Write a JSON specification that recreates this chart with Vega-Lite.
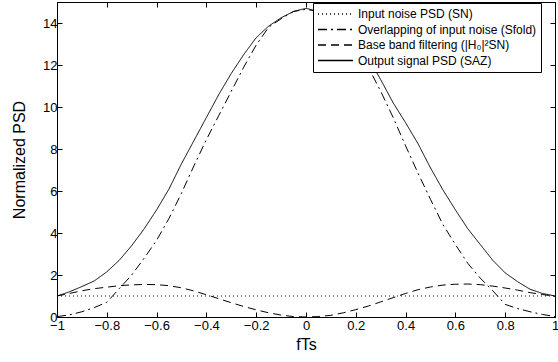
{
  "$schema": "https://vega.github.io/schema/vega-lite/v6.json",
  "width": 498,
  "height": 315,
  "autosize": {"type": "none"},
  "padding": {"left": 57, "top": 2, "right": 3, "bottom": 45},
  "config": {
    "view": {"stroke": "black", "strokeWidth": 1},
    "font": "Liberation Sans",
    "axis": {
      "domainColor": "black", "tickColor": "black", "labelColor": "black", "titleColor": "black",
      "grid": false, "tickSize": -5, "labelFontSize": 13, "titleFontSize": 16, "titleFontWeight": "normal",
      "labelFlush": false, "labelOverlap": false
    }
  },
  "layer": [
    {
      "data": {"values": [
        {"s": "Input noise PSD (SN)", "x": -1, "y": 1},
        {"s": "Input noise PSD (SN)", "x": 1, "y": 1},

        {"s": "Overlapping of input noise (Sfold)", "x": -1, "y": 0.02},
        {"s": "Overlapping of input noise (Sfold)", "x": -0.95, "y": 0.1},
        {"s": "Overlapping of input noise (Sfold)", "x": -0.9, "y": 0.25},
        {"s": "Overlapping of input noise (Sfold)", "x": -0.85, "y": 0.45},
        {"s": "Overlapping of input noise (Sfold)", "x": -0.8, "y": 0.7},
        {"s": "Overlapping of input noise (Sfold)", "x": -0.75, "y": 1.35},
        {"s": "Overlapping of input noise (Sfold)", "x": -0.7, "y": 2.0},
        {"s": "Overlapping of input noise (Sfold)", "x": -0.65, "y": 2.8},
        {"s": "Overlapping of input noise (Sfold)", "x": -0.6, "y": 3.65},
        {"s": "Overlapping of input noise (Sfold)", "x": -0.55, "y": 4.7},
        {"s": "Overlapping of input noise (Sfold)", "x": -0.5, "y": 5.9},
        {"s": "Overlapping of input noise (Sfold)", "x": -0.45, "y": 7.2},
        {"s": "Overlapping of input noise (Sfold)", "x": -0.4, "y": 8.45},
        {"s": "Overlapping of input noise (Sfold)", "x": -0.35, "y": 9.6},
        {"s": "Overlapping of input noise (Sfold)", "x": -0.3, "y": 10.75},
        {"s": "Overlapping of input noise (Sfold)", "x": -0.25, "y": 11.9},
        {"s": "Overlapping of input noise (Sfold)", "x": -0.2, "y": 12.95},
        {"s": "Overlapping of input noise (Sfold)", "x": -0.15, "y": 13.8},
        {"s": "Overlapping of input noise (Sfold)", "x": -0.1, "y": 14.2},
        {"s": "Overlapping of input noise (Sfold)", "x": -0.05, "y": 14.55},
        {"s": "Overlapping of input noise (Sfold)", "x": 0, "y": 14.65},
        {"s": "Overlapping of input noise (Sfold)", "x": 0.05, "y": 14.55},
        {"s": "Overlapping of input noise (Sfold)", "x": 0.1, "y": 14.2},
        {"s": "Overlapping of input noise (Sfold)", "x": 0.15, "y": 13.7},
        {"s": "Overlapping of input noise (Sfold)", "x": 0.2, "y": 12.9},
        {"s": "Overlapping of input noise (Sfold)", "x": 0.25, "y": 11.9},
        {"s": "Overlapping of input noise (Sfold)", "x": 0.3, "y": 10.75},
        {"s": "Overlapping of input noise (Sfold)", "x": 0.35, "y": 9.5},
        {"s": "Overlapping of input noise (Sfold)", "x": 0.4, "y": 8.15},
        {"s": "Overlapping of input noise (Sfold)", "x": 0.45, "y": 6.85},
        {"s": "Overlapping of input noise (Sfold)", "x": 0.5, "y": 5.6},
        {"s": "Overlapping of input noise (Sfold)", "x": 0.55, "y": 4.4},
        {"s": "Overlapping of input noise (Sfold)", "x": 0.6, "y": 3.45},
        {"s": "Overlapping of input noise (Sfold)", "x": 0.65, "y": 2.55},
        {"s": "Overlapping of input noise (Sfold)", "x": 0.7, "y": 1.85},
        {"s": "Overlapping of input noise (Sfold)", "x": 0.75, "y": 1.25},
        {"s": "Overlapping of input noise (Sfold)", "x": 0.8, "y": 0.6},
        {"s": "Overlapping of input noise (Sfold)", "x": 0.85, "y": 0.4},
        {"s": "Overlapping of input noise (Sfold)", "x": 0.9, "y": 0.25},
        {"s": "Overlapping of input noise (Sfold)", "x": 0.95, "y": 0.12},
        {"s": "Overlapping of input noise (Sfold)", "x": 1, "y": 0.02},

        {"s": "Base band filtering (|H₀|²SN)", "x": -1, "y": 1.0},
        {"s": "Base band filtering (|H₀|²SN)", "x": -0.95, "y": 1.12},
        {"s": "Base band filtering (|H₀|²SN)", "x": -0.9, "y": 1.25},
        {"s": "Base band filtering (|H₀|²SN)", "x": -0.85, "y": 1.35},
        {"s": "Base band filtering (|H₀|²SN)", "x": -0.8, "y": 1.42},
        {"s": "Base band filtering (|H₀|²SN)", "x": -0.75, "y": 1.49},
        {"s": "Base band filtering (|H₀|²SN)", "x": -0.7, "y": 1.53},
        {"s": "Base band filtering (|H₀|²SN)", "x": -0.65, "y": 1.55},
        {"s": "Base band filtering (|H₀|²SN)", "x": -0.6, "y": 1.54},
        {"s": "Base band filtering (|H₀|²SN)", "x": -0.55, "y": 1.49},
        {"s": "Base band filtering (|H₀|²SN)", "x": -0.5, "y": 1.39},
        {"s": "Base band filtering (|H₀|²SN)", "x": -0.45, "y": 1.24},
        {"s": "Base band filtering (|H₀|²SN)", "x": -0.4, "y": 1.06},
        {"s": "Base band filtering (|H₀|²SN)", "x": -0.35, "y": 0.87},
        {"s": "Base band filtering (|H₀|²SN)", "x": -0.3, "y": 0.68},
        {"s": "Base band filtering (|H₀|²SN)", "x": -0.25, "y": 0.5},
        {"s": "Base band filtering (|H₀|²SN)", "x": -0.2, "y": 0.34},
        {"s": "Base band filtering (|H₀|²SN)", "x": -0.15, "y": 0.2},
        {"s": "Base band filtering (|H₀|²SN)", "x": -0.1, "y": 0.09},
        {"s": "Base band filtering (|H₀|²SN)", "x": -0.05, "y": 0.02},
        {"s": "Base band filtering (|H₀|²SN)", "x": 0, "y": 0},
        {"s": "Base band filtering (|H₀|²SN)", "x": 0.05, "y": 0.02},
        {"s": "Base band filtering (|H₀|²SN)", "x": 0.1, "y": 0.08},
        {"s": "Base band filtering (|H₀|²SN)", "x": 0.15, "y": 0.2},
        {"s": "Base band filtering (|H₀|²SN)", "x": 0.2, "y": 0.35},
        {"s": "Base band filtering (|H₀|²SN)", "x": 0.25, "y": 0.52},
        {"s": "Base band filtering (|H₀|²SN)", "x": 0.3, "y": 0.72},
        {"s": "Base band filtering (|H₀|²SN)", "x": 0.35, "y": 0.92},
        {"s": "Base band filtering (|H₀|²SN)", "x": 0.4, "y": 1.12},
        {"s": "Base band filtering (|H₀|²SN)", "x": 0.45, "y": 1.3},
        {"s": "Base band filtering (|H₀|²SN)", "x": 0.5, "y": 1.43},
        {"s": "Base band filtering (|H₀|²SN)", "x": 0.55, "y": 1.52},
        {"s": "Base band filtering (|H₀|²SN)", "x": 0.6, "y": 1.56},
        {"s": "Base band filtering (|H₀|²SN)", "x": 0.65, "y": 1.57},
        {"s": "Base band filtering (|H₀|²SN)", "x": 0.7, "y": 1.54},
        {"s": "Base band filtering (|H₀|²SN)", "x": 0.75, "y": 1.47},
        {"s": "Base band filtering (|H₀|²SN)", "x": 0.8, "y": 1.38},
        {"s": "Base band filtering (|H₀|²SN)", "x": 0.85, "y": 1.28},
        {"s": "Base band filtering (|H₀|²SN)", "x": 0.9, "y": 1.16},
        {"s": "Base band filtering (|H₀|²SN)", "x": 0.95, "y": 1.07},
        {"s": "Base band filtering (|H₀|²SN)", "x": 1, "y": 0.98},

        {"s": "Output signal PSD (SAZ)", "x": -1, "y": 1.0},
        {"s": "Output signal PSD (SAZ)", "x": -0.95, "y": 1.2},
        {"s": "Output signal PSD (SAZ)", "x": -0.9, "y": 1.45},
        {"s": "Output signal PSD (SAZ)", "x": -0.85, "y": 1.72},
        {"s": "Output signal PSD (SAZ)", "x": -0.8, "y": 2.15},
        {"s": "Output signal PSD (SAZ)", "x": -0.75, "y": 2.7},
        {"s": "Output signal PSD (SAZ)", "x": -0.7, "y": 3.4},
        {"s": "Output signal PSD (SAZ)", "x": -0.65, "y": 4.2},
        {"s": "Output signal PSD (SAZ)", "x": -0.6, "y": 5.1},
        {"s": "Output signal PSD (SAZ)", "x": -0.55, "y": 6.1},
        {"s": "Output signal PSD (SAZ)", "x": -0.5, "y": 7.3},
        {"s": "Output signal PSD (SAZ)", "x": -0.45, "y": 8.4},
        {"s": "Output signal PSD (SAZ)", "x": -0.4, "y": 9.5},
        {"s": "Output signal PSD (SAZ)", "x": -0.35, "y": 10.6},
        {"s": "Output signal PSD (SAZ)", "x": -0.3, "y": 11.6},
        {"s": "Output signal PSD (SAZ)", "x": -0.25, "y": 12.5},
        {"s": "Output signal PSD (SAZ)", "x": -0.2, "y": 13.3},
        {"s": "Output signal PSD (SAZ)", "x": -0.15, "y": 13.85},
        {"s": "Output signal PSD (SAZ)", "x": -0.1, "y": 14.25},
        {"s": "Output signal PSD (SAZ)", "x": -0.05, "y": 14.55},
        {"s": "Output signal PSD (SAZ)", "x": 0, "y": 14.7},
        {"s": "Output signal PSD (SAZ)", "x": 0.05, "y": 14.55},
        {"s": "Output signal PSD (SAZ)", "x": 0.1, "y": 14.2},
        {"s": "Output signal PSD (SAZ)", "x": 0.15, "y": 13.8},
        {"s": "Output signal PSD (SAZ)", "x": 0.2, "y": 13.2},
        {"s": "Output signal PSD (SAZ)", "x": 0.25, "y": 12.35},
        {"s": "Output signal PSD (SAZ)", "x": 0.3, "y": 11.3},
        {"s": "Output signal PSD (SAZ)", "x": 0.35, "y": 10.2},
        {"s": "Output signal PSD (SAZ)", "x": 0.4, "y": 9.25},
        {"s": "Output signal PSD (SAZ)", "x": 0.45, "y": 8.25},
        {"s": "Output signal PSD (SAZ)", "x": 0.5, "y": 7.1},
        {"s": "Output signal PSD (SAZ)", "x": 0.55, "y": 6.05},
        {"s": "Output signal PSD (SAZ)", "x": 0.6, "y": 5.1},
        {"s": "Output signal PSD (SAZ)", "x": 0.65, "y": 4.2},
        {"s": "Output signal PSD (SAZ)", "x": 0.7, "y": 3.45},
        {"s": "Output signal PSD (SAZ)", "x": 0.75, "y": 2.7},
        {"s": "Output signal PSD (SAZ)", "x": 0.8, "y": 2.1},
        {"s": "Output signal PSD (SAZ)", "x": 0.85, "y": 1.68},
        {"s": "Output signal PSD (SAZ)", "x": 0.9, "y": 1.32},
        {"s": "Output signal PSD (SAZ)", "x": 0.95, "y": 1.12},
        {"s": "Output signal PSD (SAZ)", "x": 1, "y": 1.0}
      ]},
      "mark": {"type": "line", "strokeWidth": 1, "color": "black", "clip": true},
      "encoding": {
        "x": {
          "field": "x", "type": "quantitative",
          "scale": {"domain": [-1, 1], "nice": false, "zero": false},
          "axis": {"title": "fTs", "values": [-1, -0.8, -0.6, -0.4, -0.2, 0, 0.2, 0.4, 0.6, 0.8, 1], "format": ".1~f", "labelPadding": 7, "titlePadding": 4}
        },
        "y": {
          "field": "y", "type": "quantitative",
          "scale": {"domain": [0, 15], "nice": false, "zero": true},
          "axis": {"title": "Normalized PSD", "values": [0, 2, 4, 6, 8, 10, 12, 14], "labelPadding": 5, "titlePadding": 15}
        },
        "strokeDash": {
          "field": "s", "type": "nominal",
          "scale": {
            "domain": ["Input noise PSD (SN)", "Overlapping of input noise (Sfold)", "Base band filtering (|H₀|²SN)", "Output signal PSD (SAZ)"],
            "range": [[1, 3], [9, 4, 2, 4], [8, 5], [1, 0]]
          },
          "legend": {
            "title": null, "orient": "none", "legendX": 256, "legendY": 1,
            "strokeColor": "black", "fillColor": "white", "padding": 4,
            "symbolType": "stroke", "symbolSize": 1225, "symbolStrokeWidth": 1.6, "symbolStrokeColor": "black",
            "clipHeight": 14, "rowPadding": 1.5,
            "labelFontSize": 12, "labelColor": "black", "labelOffset": 4, "labelLimit": 400, "cornerRadius": 0
          }
        }
      }
    },
    {
      "data": {"values": [{"x": -1, "y": 0}]},
      "mark": {"type": "point", "opacity": 0},
      "encoding": {
        "x": {
          "field": "x", "type": "quantitative",
          "scale": {"domain": [-1, 1], "nice": false, "zero": false},
          "axis": {"orient": "top", "title": null, "labels": false, "values": [-1, -0.8, -0.6, -0.4, -0.2, 0, 0.2, 0.4, 0.6, 0.8, 1]}
        },
        "y": {
          "field": "y", "type": "quantitative",
          "scale": {"domain": [0, 15], "nice": false, "zero": true},
          "axis": {"orient": "right", "title": null, "labels": false, "values": [0, 2, 4, 6, 8, 10, 12, 14]}
        }
      }
    }
  ],
  "resolve": {"scale": {"x": "independent", "y": "independent"}}
}
